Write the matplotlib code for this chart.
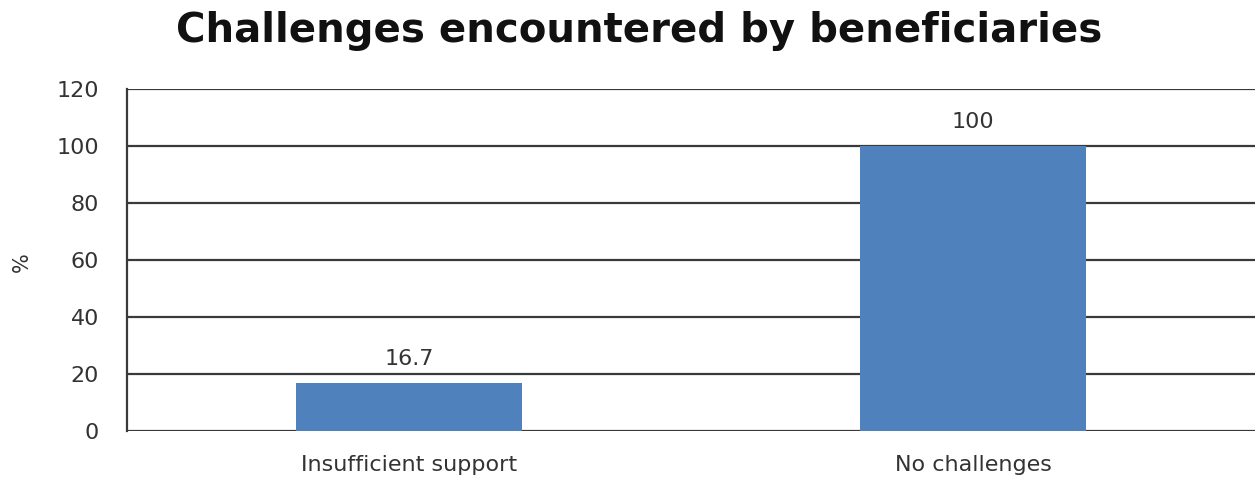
import matplotlib.pyplot as plt

categories = ['Insufficient support', 'No challenges']
values = [16.7, 100]
value_labels = ['16.7', '100']
yticks = [0, 20, 40, 60, 80, 100, 120]

plt.rcParams['font.family'] = ['DejaVu Sans']

W, H = 1257, 479
fig = plt.figure(figsize=(W / 100, H / 100), dpi=100)
ax = fig.add_axes([127 / W, 1 - 431 / H, (1255 - 127) / W, (431 - 89) / H])

x = range(len(categories))
bars = ax.bar(x, values, width=0.4, color='#4F81BD', zorder=3)

ax.set_ylim(0, 120)
ax.set_xlim(-0.5, 1.5)
ax.set_yticks(yticks)
ax.set_xticks(list(x))
ax.set_xticklabels(categories)
ax.yaxis.grid(True, color='#3a3a3a', linewidth=1.6, zorder=1)
ax.set_axisbelow(True)
ax.tick_params(length=0, labelsize=16, colors='#333333')
ax.tick_params(axis='y', pad=20)
ax.tick_params(axis='x', pad=17)

for s in ['top', 'right', 'bottom']:
    ax.spines[s].set_visible(False)
ax.spines['left'].set_color('#3a3a3a')
ax.spines['left'].set_linewidth(1.6)

for bar, lab in zip(bars, value_labels):
    ax.text(bar.get_x() + bar.get_width() / 2, bar.get_height() + 5, lab,
            ha='center', va='bottom', fontsize=16, color='#333333')

fig.text(22 / W, 1 - 262 / H, '%', rotation=90, ha='center', va='center',
         fontsize=15, color='#333333')
fig.text(0.5 * (150 + 1128) / W, 1 - 42 / H, 'Challenges encountered by beneficiaries',
         ha='center', va='baseline', fontsize=29, fontweight='bold', color='#111111')

fig.savefig('out.png', dpi=100)
